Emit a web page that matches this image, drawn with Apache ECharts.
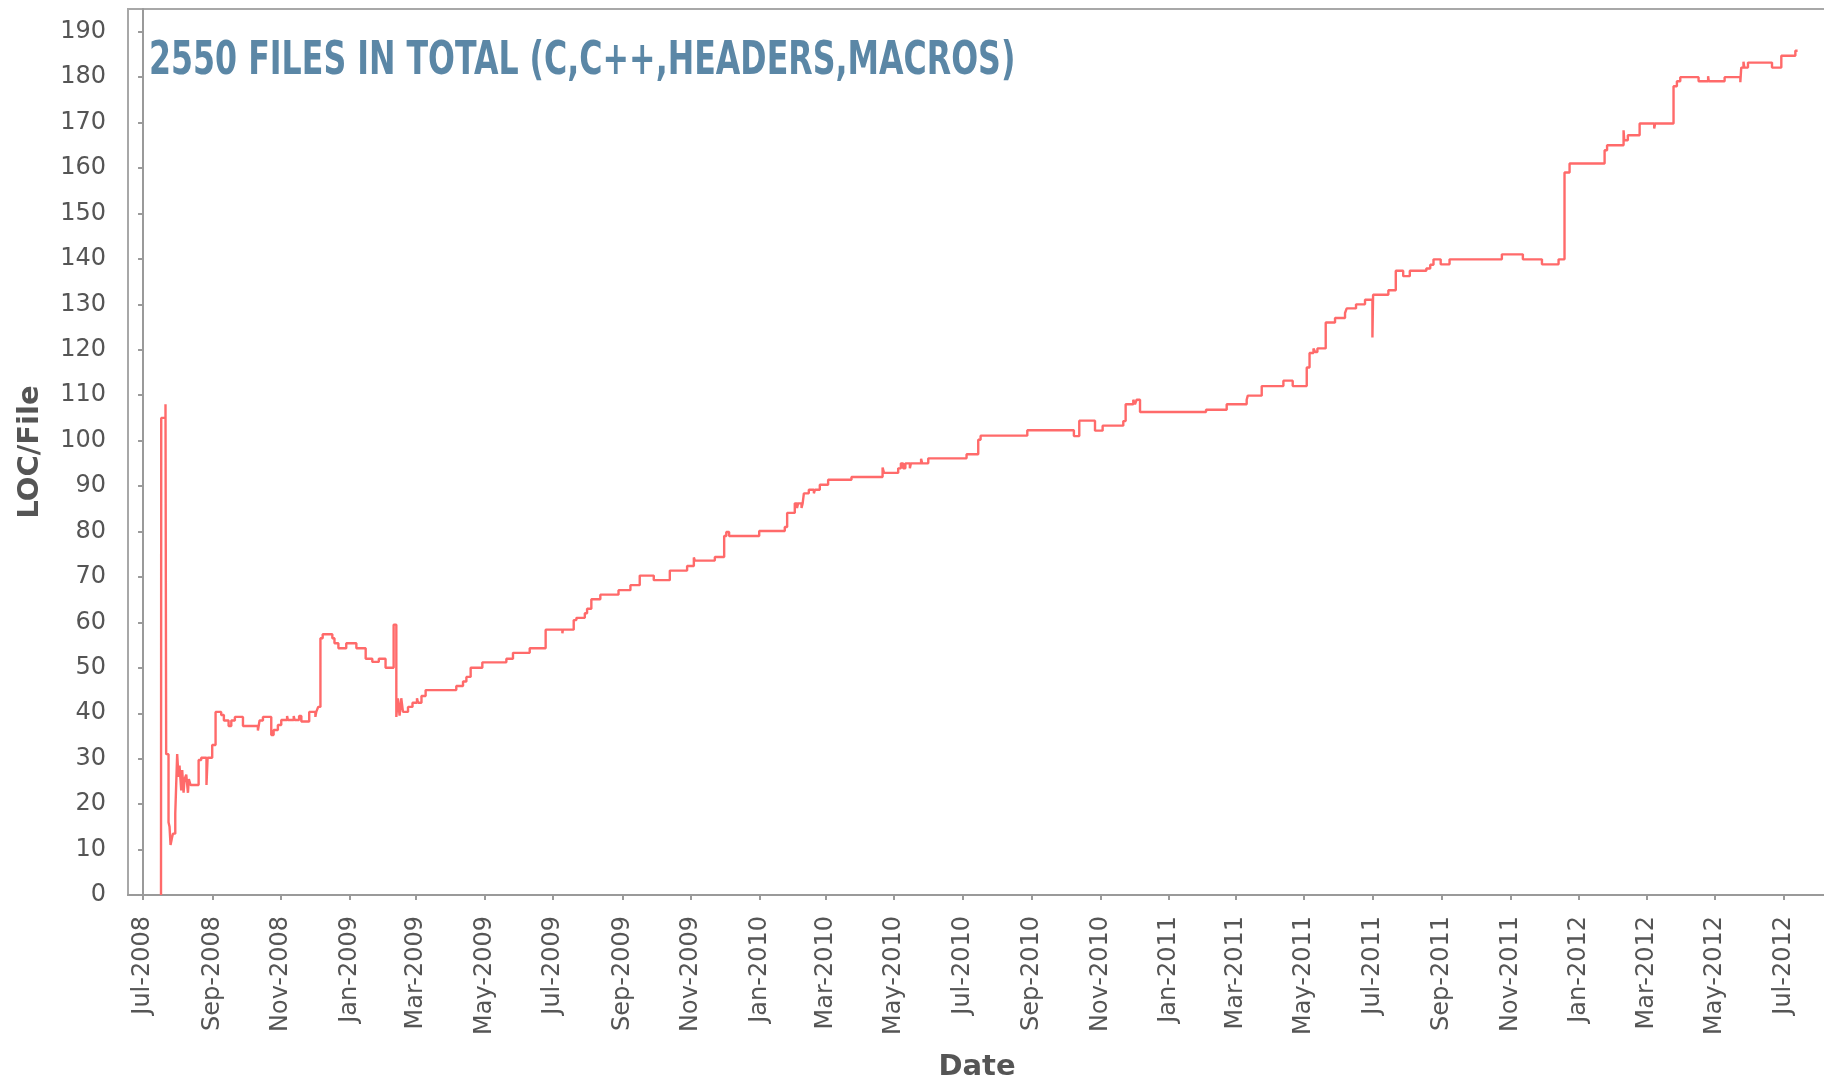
<!DOCTYPE html>
<html>
<head>
<meta charset="utf-8">
<title>LOC per file</title>
<script src="https://cdn.jsdelivr.net/npm/echarts@6/dist/echarts.min.js"></script>
<style>
  html, body { margin: 0; padding: 0; background: #fff; }
  #chart { width: 1824px; height: 1078px; }
</style>
</head>
<body>
<div id="chart"></div>
<script>
  // days counted from this date
  const startDate = '2008-07-01';

  const dayOffsets = [
    16.0, 16.2, 20.0, 20.6, 22.7, 23.6, 24.5, 25.7, 26.6, 28.7,
    30.4, 31.6, 32.5, 34.0, 34.9, 36.1, 37.0, 38.5, 40.0, 40.8,
    42.3, 49.5, 51.8, 56.5, 57.5, 61.6, 64.6, 69.6, 72.0, 76.2,
    78.6, 81.8, 89.0, 102.3, 103.8, 106.8, 114.2, 116.3, 120.1, 123.1,
    128.3, 129.0, 134.2, 135.0, 139.0, 141.0, 148.0, 153.5, 154.3, 156.0,
    158.0, 160.0, 168.6, 170.5, 174.0, 181.0, 190.0, 198.3, 204.2, 210.0,
    216.0, 223.2, 225.6, 227.0, 228.5, 230.0, 231.5, 236.0, 240.0, 244.0,
    245.0, 248.0, 251.7, 279.0, 285.0, 288.0, 291.8, 302.2, 323.6, 329.5,
    344.4, 358.6, 373.5, 374.0, 383.6, 386.0, 393.5, 395.5, 399.3, 407.3,
    423.5, 434.1, 442.4, 454.9, 469.2, 484.6, 490.6, 491.5, 509.3, 517.6,
    519.5, 522.0, 548.8, 571.6, 573.7, 580.5, 582.5, 583.5, 586.5, 587.5,
    588.6, 593.0, 597.5, 598.5, 602.8, 610.2, 631.0, 658.7, 660.0, 672.6,
    675.0, 677.0, 679.0, 683.0, 684.0, 693.0, 694.0, 699.4, 733.5, 743.9,
    746.0, 787.6, 829.1, 833.9, 847.9, 854.7, 873.1, 875.2, 882.0, 883.5,
    885.0, 888.0, 946.8, 965.2, 983.0, 984.0, 996.4, 1015.7, 1024.0, 1036.5,
    1039.0, 1042.5, 1044.0, 1046.0, 1053.4, 1061.7, 1070.6, 1072.1, 1080.4, 1088.4,
    1095.0, 1095.6, 1109.2, 1115.8, 1122.4, 1128.3, 1143.0, 1146.5, 1149.4, 1155.8,
    1163.7, 1210.3, 1229.0, 1246.0, 1260.8, 1266.1, 1270.6, 1301.8, 1304.0, 1318.7,
    1319.3, 1322.5, 1333.0, 1346.0, 1346.8, 1363.2, 1366.2, 1369.2, 1385.5, 1394.0,
    1394.6, 1408.7, 1422.7, 1423.5, 1425.5, 1426.3, 1429.5, 1450.9, 1459.2, 1471.7,
    1473.7
  ];

  const locPerFile = [
    0, 105, 108, 31, 16, 15, 11, 12.5, 13.5, 18,
    31, 26, 28.5, 23, 27.5, 22.5, 25.5, 26.5, 22.5, 25.5,
    24.2, 29.7, 30.2, 24.2, 30.2, 33, 40.3, 39.6, 38.4, 37.2,
    38.4, 39.2, 37.2, 36.2, 38.4, 39.2, 35.2, 36.3, 37.4, 38.5,
    39.4, 38.5, 39.4, 38.5, 39.4, 38.2, 40.3, 39.2, 40.3, 41.4,
    56.5, 57.4, 56.5, 55.4, 54.3, 55.4, 54.3, 52, 51.3, 52,
    50, 59.5, 39.2, 43.3, 39.5, 43.3, 40.3, 41.4, 42.3, 43.3,
    42.3, 43.8, 45.1, 46, 47, 48, 50, 51.2, 52, 53.3,
    54.3, 58.4, 57.6, 58.4, 60.5, 61, 62, 63, 65.1, 66.1,
    67.1, 68.2, 70.3, 69.3, 71.4, 72.4, 74.3, 73.6, 74.4, 79,
    79.9, 79, 80.1, 81, 84.1, 86.2, 85.2, 86.2, 85.2, 86.2,
    88.4, 89.2, 88.4, 89.2, 90.3, 91.4, 92, 94.1, 92.9, 93.9,
    95, 93.9, 95, 93.9, 95, 96, 95, 96.1, 97, 100.2,
    101.1, 102.3, 101, 104.4, 102.2, 103.3, 104.3, 108, 109, 108,
    109, 106.3, 106.8, 108, 109, 109.9, 112, 113.2, 112, 116.1,
    119.3, 120.3, 119.5, 120.3, 126, 127, 128.1, 129.1, 130, 131,
    122.7, 132.1, 133.1, 137.4, 136.2, 137.4, 137.9, 138.7, 139.9, 138.8,
    139.9, 141, 139.9, 138.8, 139.9, 159, 161, 163.9, 165, 168.3,
    166.1, 167.2, 169.8, 168.7, 169.8, 178, 179.1, 180, 179.1, 180.2,
    179.1, 180, 178.9, 182.1, 183.4, 182.1, 183.2, 182.1, 184.7, 185.8,
    185.8
  ];

  const yTicks = [0, 10, 20, 30, 40, 50, 60, 70, 80, 90, 100, 110, 120, 130, 140, 150, 160, 170, 180, 190];

  const xTickLabels = [
    'Jul-2008', 'Sep-2008', 'Nov-2008', 'Jan-2009', 'Mar-2009', 'May-2009',
    'Jul-2009', 'Sep-2009', 'Nov-2009', 'Jan-2010', 'Mar-2010', 'May-2010',
    'Jul-2010', 'Sep-2010', 'Nov-2010', 'Jan-2011', 'Mar-2011', 'May-2011',
    'Jul-2011', 'Sep-2011', 'Nov-2011', 'Jan-2012', 'Mar-2012', 'May-2012',
    'Jul-2012'
  ];

  const titleText = '2550 FILES IN TOTAL (C,C++,HEADERS,MACROS)';

  const monthNames = ['Jan', 'Feb', 'Mar', 'Apr', 'May', 'Jun', 'Jul', 'Aug', 'Sep', 'Oct', 'Nov', 'Dec'];
  const dayMs = 86400000;
  const p = startDate.split('-').map(Number);
  const t0 = Date.UTC(p[0], p[1] - 1, p[2]);

  // tick label -> day offset
  const labelByDay = {};
  const xTickDays = xTickLabels.map(function (lab) {
    const parts = lab.split('-');
    const d = Math.round((Date.UTC(+parts[1], monthNames.indexOf(parts[0]), 1) - t0) / dayMs);
    labelByDay[d] = lab;
    return d;
  });

  const seriesData = dayOffsets.map(function (d, i) {
    return [d, locPerFile[i]];
  });

  const axisGray = '#9a9a9a';
  const textGray = '#555555';

  const chart = echarts.init(document.getElementById('chart'), null, { renderer: 'canvas' });

  const option = {
    backgroundColor: '#ffffff',
    animation: false,
    grid: {
      show: true,
      left: 128,
      top: 9,
      right: -2,
      bottom: 183,
      borderColor: '#a8a8a8',
      borderWidth: 2,
      containLabel: false,
      outerBoundsMode: 'none'
    },
    graphic: [{
      type: 'text',
      x: 149,
      y: 62,
      scaleX: 0.8,
      scaleY: 1.06,
      style: {
        text: titleText,
        fill: '#5b87a6',
        font: 'bold 44px "DejaVu Sans Condensed", "DejaVu Sans", sans-serif',
        align: 'left',
        verticalAlign: 'middle'
      }
    }],
    xAxis: {
      type: 'value',
      min: -13.4,
      max: 1499,
      offset: 10,
      name: 'Date',
      nameLocation: 'middle',
      nameGap: 148,
      nameTextStyle: {
        color: textGray,
        fontFamily: 'DejaVu Sans',
        fontWeight: 'bold',
        fontSize: 29
      },
      splitLine: { show: false },
      axisLine: { show: true, lineStyle: { color: axisGray, width: 2 } },
      axisTick: {
        show: true,
        length: 5,
        customValues: xTickDays,
        lineStyle: { color: axisGray, width: 2 }
      },
      axisLabel: {
        show: true,
        rotate: 90,
        margin: 11,
        customValues: xTickDays,
        color: textGray,
        fontFamily: 'DejaVu Sans',
        fontSize: 24,
        formatter: function (v) {
          return labelByDay[Math.round(v)] || '';
        }
      }
    },
    yAxis: {
      type: 'value',
      min: 0,
      max: 195,
      offset: 10,
      name: 'LOC/File',
      nameLocation: 'middle',
      nameGap: 73,
      nameRotate: 90,
      nameTextStyle: {
        color: textGray,
        fontFamily: 'DejaVu Sans',
        fontWeight: 'bold',
        fontSize: 29
      },
      splitLine: { show: false },
      axisLine: { show: true, lineStyle: { color: axisGray, width: 2 } },
      axisTick: {
        show: true,
        length: 5,
        customValues: yTicks,
        lineStyle: { color: axisGray, width: 2 }
      },
      axisLabel: {
        show: true,
        margin: 12,
        customValues: yTicks,
        color: textGray,
        fontFamily: 'DejaVu Sans',
        fontSize: 24
      }
    },
    series: [{
      type: 'line',
      step: 'end',
      data: seriesData,
      showSymbol: false,
      symbol: 'none',
      clip: true,
      lineStyle: { color: '#ff6a6a', width: 2.4 }
    }]
  };

  chart.setOption(option);
  window.addEventListener('resize', function () {
    chart.resize();
  });
</script>
</body>
</html>
